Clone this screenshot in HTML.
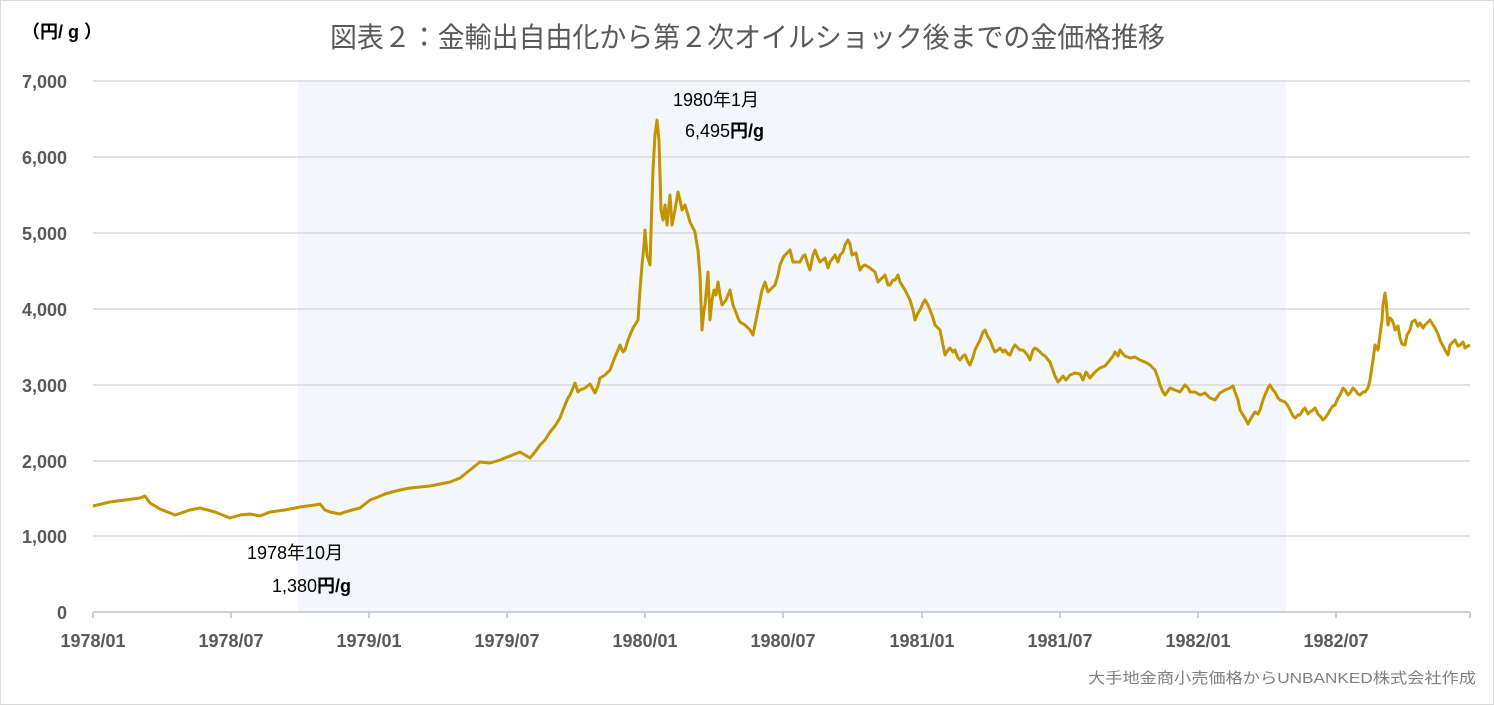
<!DOCTYPE html>
<html><head><meta charset="utf-8"><style>
html,body{margin:0;padding:0;background:#fff}
svg{display:block}
text{font-family:"Liberation Sans","Noto Sans CJK JP",sans-serif}
</style></head><body>
<svg width="1494" height="705" viewBox="0 0 1494 705" xmlns="http://www.w3.org/2000/svg">
<rect x="0.5" y="0.5" width="1493" height="704" fill="#fff" stroke="#d9d9d9"/>
<rect x="298" y="81" width="988" height="531" fill="#f3f7fb"/>
<g stroke="#d9d9d9" stroke-width="1.5">
<line x1="93" y1="81" x2="1470" y2="81"/><line x1="93" y1="157" x2="1470" y2="157"/>
<line x1="93" y1="233" x2="1470" y2="233"/><line x1="93" y1="309" x2="1470" y2="309"/>
<line x1="93" y1="385" x2="1470" y2="385"/><line x1="93" y1="461" x2="1470" y2="461"/>
<line x1="93" y1="536" x2="1470" y2="536"/>
</g>
<line x1="93" y1="612" x2="1470" y2="612" stroke="#bfbfbf" stroke-width="1.5"/>
<g stroke="#bfbfbf" stroke-width="1.5">
<line x1="93" y1="612" x2="93" y2="618"/><line x1="231" y1="612" x2="231" y2="618"/><line x1="369" y1="612" x2="369" y2="618"/><line x1="507" y1="612" x2="507" y2="618"/><line x1="645" y1="612" x2="645" y2="618"/><line x1="783" y1="612" x2="783" y2="618"/><line x1="922" y1="612" x2="922" y2="618"/><line x1="1060" y1="612" x2="1060" y2="618"/><line x1="1198" y1="612" x2="1198" y2="618"/><line x1="1336" y1="612" x2="1336" y2="618"/><line x1="1470" y1="612" x2="1470" y2="618"/>
</g>
<g font-size="18" font-weight="bold" fill="#595959" text-anchor="end">
<text x="67" y="88">7,000</text><text x="67" y="164">6,000</text><text x="67" y="240">5,000</text>
<text x="67" y="316">4,000</text><text x="67" y="392">3,000</text><text x="67" y="468">2,000</text>
<text x="67" y="543">1,000</text><text x="67" y="619">0</text>
</g>
<g font-size="18" font-weight="bold" fill="#595959" text-anchor="middle">
<text x="93" y="647">1978/01</text><text x="231" y="647">1978/07</text><text x="369" y="647">1979/01</text>
<text x="507" y="647">1979/07</text><text x="645" y="647">1980/01</text><text x="783" y="647">1980/07</text>
<text x="922" y="647">1981/01</text><text x="1060" y="647">1981/07</text><text x="1198" y="647">1982/01</text>
<text x="1336" y="647">1982/07</text>
</g>
<text x="22" y="38" font-size="18" font-weight="bold" fill="#000">（円/ g ）</text>
<text x="330" y="47" font-size="28" fill="#595959" textLength="835" lengthAdjust="spacingAndGlyphs">図表２：金輸出自由化から第２次オイルショック後までの金価格推移</text>
<text x="673" y="106" font-size="18" fill="#000">1980年1月</text>
<text x="685" y="137" font-size="18" fill="#000">6,495<tspan font-weight="bold">円/g</tspan></text>
<text x="247" y="559" font-size="18" fill="#000">1978年10月</text>
<text x="272" y="592" font-size="18" fill="#000">1,380<tspan font-weight="bold">円/g</tspan></text>
<text x="1088" y="683" font-size="15" fill="#808080" textLength="388" lengthAdjust="spacingAndGlyphs">大手地金商小売価格からUNBANKED株式会社作成</text>
<polyline fill="none" stroke="#c39400" stroke-width="3" stroke-linejoin="round" points="93,506 110,502 125,500 140,498 145,496 150,503 160,509 175,515 190,510 200,508 215,512 230,518 240,515 250,514 260,516 270,512 285,510 300,507 315,505 320,504 325,510 330,512 340,514 345,512 352,510 360,508 370,500 378,497 385,494 392,492 400,490 410,488 420,487 430,486 440,484 450,482 460,478 465,474 470,470 475,466 480,462 490,463 500,460 505,458 510,456 520,452 525,455 530,458 535,452 540,445 545,440 550,432 555,426 560,418 563,410 565,405 568,398 570,395 573,388 575,383 578,392 580,390 585,388 590,384 595,393 598,386 600,378 605,375 610,370 613,362 615,357 618,350 620,345 623,352 625,350 628,340 630,335 633,328 635,325 638,320 640,290 642,265 644,245 645,230 647,255 650,265 652,200 653,170 655,135 657,120 659,140 661,210 663,220 665,205 667,225 670,195 672,225 675,210 678,192 680,200 682,210 685,205 688,215 690,222 693,228 695,232 697,245 698,250 700,275 702,330 704,310 705,305 708,272 710,320 712,300 714,290 716,295 718,282 720,295 722,305 726,300 728,295 730,290 733,305 735,310 738,318 740,322 745,325 750,330 753,335 757,315 760,300 762,290 765,282 768,292 770,290 775,285 778,275 780,265 783,258 785,255 788,252 790,250 793,262 795,262 800,262 803,256 805,255 808,265 810,270 813,255 815,250 818,258 820,262 825,258 828,268 830,262 833,258 835,255 838,262 840,255 843,252 845,245 848,240 850,244 852,255 856,253 858,262 860,270 863,266 865,265 870,268 875,272 878,282 880,280 885,275 888,285 890,285 893,280 895,280 898,275 900,282 905,290 908,296 910,300 913,310 915,320 918,313 920,310 923,303 925,300 928,305 930,310 933,318 935,325 938,328 940,330 943,345 945,355 948,350 950,348 953,352 955,350 958,358 960,360 963,356 965,355 968,362 970,365 973,357 975,350 978,344 980,340 983,332 985,330 988,337 990,340 993,348 995,352 998,350 1000,348 1003,352 1005,350 1008,354 1010,355 1013,348 1015,345 1018,348 1020,350 1023,350 1025,352 1028,356 1030,360 1033,350 1035,348 1038,350 1040,352 1043,355 1045,356 1050,362 1055,376 1058,382 1060,380 1063,376 1066,380 1070,375 1075,373 1080,374 1083,380 1086,372 1090,378 1095,372 1100,368 1105,366 1110,360 1113,356 1115,352 1118,356 1120,350 1123,354 1125,356 1130,358 1135,357 1140,360 1145,362 1150,365 1153,368 1155,370 1158,378 1160,385 1163,392 1165,395 1170,388 1175,390 1180,392 1185,385 1188,388 1190,392 1195,392 1200,395 1205,393 1210,398 1215,400 1220,393 1225,390 1230,388 1233,386 1235,392 1238,400 1240,410 1243,415 1245,418 1248,424 1250,420 1253,415 1255,412 1258,414 1260,410 1263,400 1265,395 1268,388 1270,385 1273,390 1275,392 1278,398 1280,400 1285,402 1288,406 1290,410 1293,416 1295,418 1298,415 1300,415 1303,410 1305,408 1308,414 1310,412 1313,410 1315,408 1318,414 1320,416 1323,420 1325,418 1328,414 1330,410 1333,406 1335,405 1338,398 1340,395 1343,388 1345,390 1348,395 1350,393 1353,388 1355,390 1358,394 1360,395 1363,392 1365,392 1368,388 1370,380 1373,360 1375,345 1378,350 1380,335 1382,320 1383,305 1385,293 1386,300 1388,325 1390,318 1392,320 1394,325 1395,330 1398,326 1400,338 1402,344 1405,345 1407,335 1410,330 1412,322 1415,320 1418,326 1420,323 1423,328 1425,325 1428,322 1430,320 1433,325 1435,328 1438,334 1440,340 1443,346 1445,350 1448,355 1450,345 1453,342 1455,340 1458,346 1460,345 1463,342 1465,348 1468,346 1470,345"/>
</svg>
</body></html>
